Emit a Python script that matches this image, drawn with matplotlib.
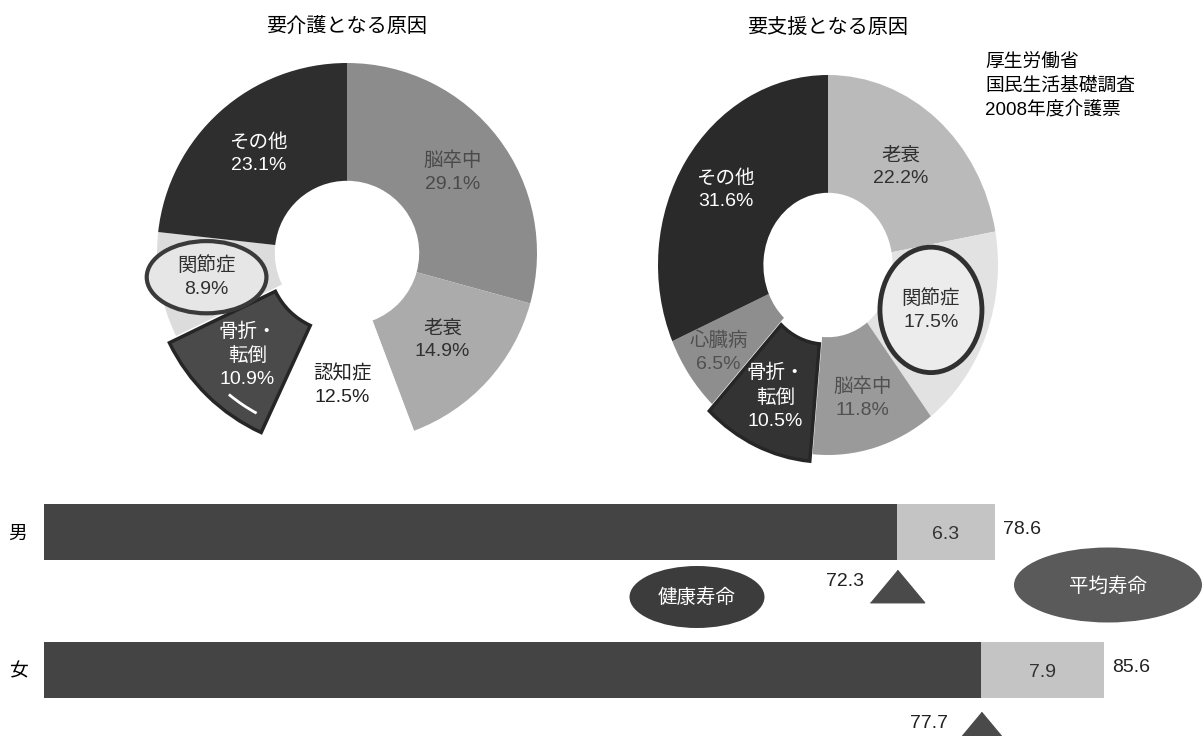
import numpy as np
import matplotlib
matplotlib.use('Agg')
import matplotlib.pyplot as plt
from matplotlib.patches import Ellipse, Arc

plt.rcParams['font.family'] = ['Liberation Sans', 'Noto Sans CJK JP', 'DejaVu Sans']

W, H = 1202, 736

# 要介護となる原因 (%)
care_labels = ['脳卒中', '老衰', '認知症', '骨折・\n転倒', '関節症', 'その他']
care_values = [29.1, 14.9, 12.5, 10.9, 8.9, 23.1]

# 要支援となる原因 (%)
support_labels = ['老衰', '関節症', '脳卒中', '骨折・\n転倒', '心臓病', 'その他']
support_values = [22.2, 17.5, 11.8, 10.5, 6.5, 31.6]

# 健康寿命と平均寿命 (年)
sexes = ['男', '女']
healthy_life = [72.3, 77.7]
unhealthy_years = [6.3, 7.9]
life_expectancy = [78.6, 85.6]


def px_box(cx, cy, rx, ry):
    # axes rectangle (figure fraction) for a donut of radii rx, ry px centred at cx, cy
    w, h = 2.6 * rx, 2.6 * ry
    return [(cx - w / 2) / W, 1 - (cy + h / 2) / H, w / W, h / H]


def donut(ax, values, labels, colors, text_colors, label_r, explode, edges):
    wedges, _ = ax.pie(values, startangle=90, counterclock=False, colors=colors,
                       explode=explode, wedgeprops=dict(width=0.62, linewidth=0))
    for w, e in zip(wedges, edges):
        if e:
            w.set_edgecolor('#262626')
            w.set_linewidth(e)
    ax.set_aspect('auto')
    ax.set_xlim(-1.3, 1.3)
    ax.set_ylim(-1.3, 1.3)
    pos = []
    for w, lab, v, tc, r in zip(wedges, labels, values, text_colors, label_r):
        ang = np.deg2rad((w.theta1 + w.theta2) / 2)
        cx, cy = w.center
        x, y = cx + r * np.cos(ang), cy + r * np.sin(ang)
        pos.append((x, y))
        ax.text(x, y, f'{lab}\n{v}%', ha='center', va='center', color=tc,
                fontsize=14, linespacing=1.45, zorder=5)
    return wedges, pos


fig = plt.figure(figsize=(W / 100, H / 100), dpi=100)

# 要介護
ax1 = fig.add_axes(px_box(347, 253, 190, 190))
care_colors = ['#8c8c8c', '#ababab', '#ffffff', '#4a4a4a', '#dcdcdc', '#2e2e2e']
care_text = ['#4a4a4a', '#303030', '#222222', 'white', '#303030', 'white']
w1, p1 = donut(ax1, care_values, care_labels, care_colors, care_text,
               [0.7, 0.68, 0.7, 0.7, 0.75, 0.7],
               [0, 0, 0, 0.05, 0, 0], [0, 0, 0, 2.5, 0, 0])
ax1.add_patch(Ellipse(p1[4], 0.63, 0.38, facecolor='#e6e6e6',
                      edgecolor='#3a3a3a', linewidth=3, zorder=4))
# 骨折・転倒の光沢
ax1.add_patch(Arc(w1[3].center, 1.84, 1.84, theta1=w1[3].theta2 - 15, theta2=w1[3].theta2 - 4,
                  color='white', linewidth=2, zorder=4))

# 要支援
ax2 = fig.add_axes(px_box(828, 265, 170, 190))
support_colors = ['#bababa', '#e2e2e2', '#9a9a9a', '#333333', '#8e8e8e', '#2a2a2a']
support_text = ['#303030', '#303030', '#505050', 'white', '#505050', 'white']
w2, p2 = donut(ax2, support_values, support_labels, support_colors, support_text,
               [0.67, 0.65, 0.73, 0.72, 0.79, 0.72],
               [0, 0, 0, 0.04, 0, 0], [0, 0, 0, 2.5, 0, 0])
ax2.add_patch(Ellipse(p2[1], 0.6, 0.66, facecolor='#ececec',
                      edgecolor='#303030', linewidth=3.5, zorder=4))

fig.text(347 / W, 1 - 26 / H, '要介護となる原因', ha='center', va='center', fontsize=14.5)
fig.text(828 / W, 1 - 27 / H, '要支援となる原因', ha='center', va='center', fontsize=14.5)
fig.text(985 / W, 1 - 54 / H, '厚生労働省\n国民生活基礎調査\n2008年度介護票',
         ha='left', va='top', fontsize=13.5, linespacing=1.45)

# 健康寿命と平均寿命の差
axb = fig.add_axes([44 / W, 0, 1 - 44 / W, 256 / H])
axb.set_facecolor('none')
axb.set_xlim(17.5, 91.9)
axb.set_ylim(-0.478, 1.377)
ys = [1, 0]
axb.barh(ys, healthy_life, height=0.41, color='#444444')
axb.barh(ys, unhealthy_years, left=healthy_life, height=0.41, color='#c4c4c4')

tri = [(-1, -0.6), (1, -0.6), (0, 0.6)]
tri_y = [0.61, -0.42]
axb.plot(healthy_life, tri_y, ls='none', marker=tri, ms=39, color='#4a4a4a')

for y, h, u, t, ty in zip(ys, healthy_life, unhealthy_years, life_expectancy, tri_y):
    axb.text(h + u / 2, y - 0.02, f'{u}', ha='center', va='center', fontsize=14, color='#333333')
    axb.annotate(f'{t}', (t, y + 0.02), xytext=(6, 0), textcoords='offset points',
                 ha='left', va='center', fontsize=14, color='#222222')
    axb.annotate(f'{h}', (h, ty), xytext=(-24, 3), textcoords='offset points',
                 ha='right', va='center', fontsize=14, color='#222222')

axb.set_yticks(ys, sexes)
axb.tick_params(axis='y', length=0, pad=12, labelsize=13.5)
axb.set_xticks([])
for s in axb.spines.values():
    s.set_visible(False)

# 健康寿命・平均寿命の見出し
fig.add_artist(Ellipse((697 / W, 1 - 597 / H), 135 / W, 62 / H,
                       transform=fig.transFigure, facecolor='#3c3c3c', edgecolor='none'))
fig.text(697 / W, 1 - 598 / H, '健康寿命', ha='center', va='center', color='white', fontsize=14)
fig.add_artist(Ellipse((1108 / W, 1 - 585 / H), 188 / W, 75 / H,
                       transform=fig.transFigure, facecolor='#5a5a5a', edgecolor='none'))
fig.text(1108 / W, 1 - 587 / H, '平均寿命', ha='center', va='center', color='white', fontsize=14)

fig.savefig('out.png', dpi=100)
